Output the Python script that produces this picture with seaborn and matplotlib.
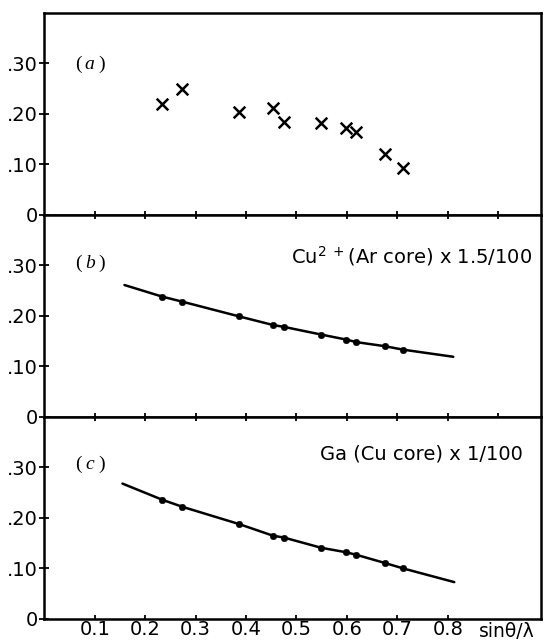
import numpy as np
import pandas as pd
import matplotlib
matplotlib.use('Agg')
import matplotlib.pyplot as plt
import seaborn as sns

# sin(theta)/lambda positions of the reflections
s_obs = [0.234, 0.274, 0.386, 0.453, 0.476, 0.549, 0.599, 0.619, 0.675, 0.712]

# (a) observed values
a_obs = [0.219, 0.248, 0.204, 0.211, 0.183, 0.182, 0.171, 0.164, 0.120, 0.092]

# (b) Cu2+ (Ar core) x 1.5/100
b_dots = [0.238, 0.228, 0.199, 0.182, 0.178, 0.163, 0.153, 0.148, 0.140, 0.133]
b_curve_s = [0.159, 0.234, 0.274, 0.386, 0.453, 0.476, 0.549, 0.599, 0.619, 0.675, 0.712, 0.811]
b_curve = [0.261, 0.238, 0.228, 0.199, 0.182, 0.178, 0.163, 0.153, 0.148, 0.140, 0.133, 0.119]

# (c) Ga (Cu core) x 1/100
c_dots = [0.236, 0.222, 0.188, 0.165, 0.161, 0.141, 0.132, 0.127, 0.111, 0.100]
c_curve_s = [0.155, 0.234, 0.274, 0.386, 0.453, 0.476, 0.549, 0.599, 0.619, 0.675, 0.712, 0.813]
c_curve = [0.268, 0.236, 0.222, 0.188, 0.165, 0.161, 0.141, 0.132, 0.127, 0.111, 0.100, 0.073]

y_ticks = [0, 0.1, 0.2, 0.3]
y_labels = ['0', '.10', '.20', '.30']
x_ticks = [0.1, 0.2, 0.3, 0.4, 0.5, 0.6, 0.7, 0.8]
x_labels = ['0.1', '0.2', '0.3', '0.4', '0.5', '0.6', '0.7', '0.8']
panel_letters = ['a', 'b', 'c']

sns.set_style('ticks')
plt.rcParams['font.family'] = ['DejaVu Sans']
plt.rcParams['text.color'] = 'black'
plt.rcParams['mathtext.fontset'] = 'custom'
plt.rcParams['mathtext.rm'] = 'DejaVu Sans'

fig = plt.figure(figsize=(5.45, 6.41), dpi=100)
left, right = 44.3 / 545, 541 / 545
top, bottom = 1 - 12.7 / 641, 1 - 619 / 641
h = (top - bottom) / 3
axes = [fig.add_axes([left, bottom + (2 - i) * h, right - left, h]) for i in range(3)]

df_a = pd.DataFrame({'s': s_obs, 'v': a_obs})
sns.scatterplot(data=df_a, x='s', y='v', marker='x', s=70, color='black',
                linewidth=1.8, ax=axes[0])

df_b = pd.DataFrame({'s': b_curve_s, 'v': b_curve})
sns.lineplot(data=df_b, x='s', y='v', sort=False, color='black', linewidth=1.8, ax=axes[1])
sns.scatterplot(x=s_obs, y=b_dots, color='black', s=22, edgecolor='black', ax=axes[1])

df_c = pd.DataFrame({'s': c_curve_s, 'v': c_curve})
sns.lineplot(data=df_c, x='s', y='v', sort=False, color='black', linewidth=1.8, ax=axes[2])
sns.scatterplot(x=s_obs, y=c_dots, color='black', s=22, edgecolor='black', ax=axes[2])

panel_y = [0.298, 0.303, 0.306]
for i, ax in enumerate(axes):
    ax.set_xlim(0, 0.985)
    ax.set_ylim(0, 0.40)
    ax.set_xlabel('')
    ax.set_ylabel('')
    for sp in ax.spines.values():
        sp.set_visible(True)
        sp.set_linewidth(1.8)
        sp.set_color('black')
    ax.set_yticks(y_ticks)
    ax.set_yticklabels(y_labels)
    ax.tick_params(axis='y', direction='inout', length=7, width=1.3, pad=1,
                   labelsize=14, colors='black')
    if i < 2:
        ax.set_xticks(x_ticks + [0.9])
    else:
        ax.set_xticks(x_ticks)
    ax.tick_params(axis='x', direction='in', length=3, width=1.3, top=(i > 0),
                   bottom=True, labelbottom=(i == 2), pad=1, labelsize=14,
                   colors='black')
    # panel label "( a )" with upright brackets and italic letter
    ax.text(0.067, panel_y[i], '(', ha='center', va='center', color='black',
            fontsize=14, family='Liberation Serif')
    ax.text(0.090, panel_y[i], panel_letters[i], ha='center', va='center', color='black',
            fontsize=14, family='Liberation Serif', style='italic')
    ax.text(0.1135, panel_y[i], ')', ha='center', va='center', color='black',
            fontsize=14, family='Liberation Serif')

axes[2].set_xticklabels(x_labels)

axes[1].text(0.968, 0.318, r'Cu$^{2\ +}$(Ar core) x 1.5/100', ha='right', va='center',
             fontsize=14, color='black')
axes[2].text(0.950, 0.326, 'Ga (Cu core) x 1/100', ha='right', va='center',
             fontsize=14, color='black')
axes[2].text(0.917, -0.005, 'sinθ/λ', ha='center', va='top', fontsize=13.5, color='black')

fig.savefig('out.png', dpi=100)
